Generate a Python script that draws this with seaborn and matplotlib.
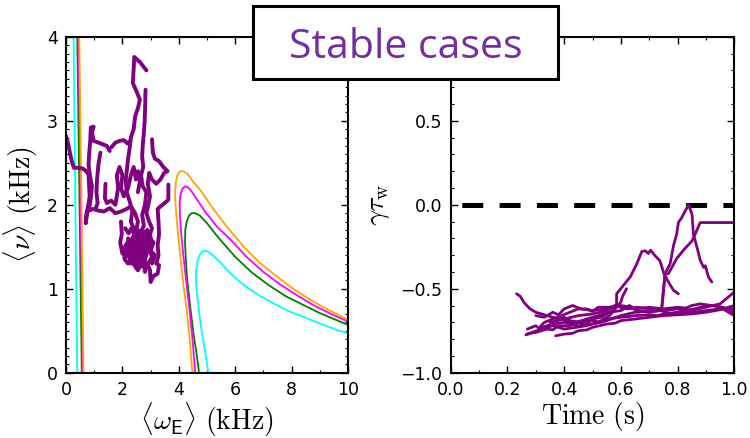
import numpy as np
import pandas as pd
import matplotlib
matplotlib.use("Agg")
import matplotlib.pyplot as plt
import seaborn as sns
from matplotlib.patches import Rectangle
from matplotlib.ticker import MultipleLocator

# ---------------- data: left panel (stability boundaries) ----------------
orange_x = [4.48, 4.40, 4.28, 4.16, 4.07, 3.98, 3.93, 3.88, 3.87, 3.90, 3.96, 4.05, 4.15, 4.30, 4.50, 4.80, 5.20, 5.70, 6.30, 6.90, 7.50, 8.10, 8.70, 9.30, 10.0]
orange_y = [0.00, 0.35, 0.75, 1.05, 1.34, 1.62, 1.82, 2.02, 2.16, 2.28, 2.36, 2.40, 2.40, 2.37, 2.28, 2.16, 1.96, 1.74, 1.50, 1.30, 1.14, 0.99, 0.86, 0.75, 0.63]
magenta_x = [4.58, 4.50, 4.38, 4.26, 4.16, 4.08, 4.04, 4.03, 4.06, 4.13, 4.22, 4.32, 4.45, 4.65, 4.95, 5.35, 5.85, 6.40, 7.00, 7.60, 8.20, 8.80, 9.40, 10.0]
magenta_y = [0.00, 0.35, 0.75, 1.10, 1.40, 1.68, 1.88, 2.02, 2.12, 2.19, 2.22, 2.21, 2.16, 2.06, 1.91, 1.74, 1.58, 1.38, 1.20, 1.05, 0.92, 0.80, 0.70, 0.61]
green_x = [4.72, 4.62, 4.52, 4.40, 4.30, 4.25, 4.22, 4.23, 4.28, 4.36, 4.46, 4.58, 4.75, 5.00, 5.40, 6.00, 6.60, 7.20, 7.80, 8.40, 9.00, 9.50, 10.0]
green_y = [0.00, 0.25, 0.47, 0.80, 1.10, 1.35, 1.55, 1.70, 1.80, 1.87, 1.90, 1.90, 1.87, 1.78, 1.61, 1.38, 1.19, 1.04, 0.91, 0.81, 0.71, 0.64, 0.57]
cyan_x = [5.05, 4.94, 4.82, 4.72, 4.64, 4.61, 4.62, 4.68, 4.77, 4.87, 5.00, 5.20, 5.45, 5.70, 6.00, 6.40, 6.90, 7.50, 8.00, 8.60, 9.20, 9.60, 10.0]
cyan_y = [0.00, 0.24, 0.47, 0.72, 0.95, 1.10, 1.24, 1.35, 1.42, 1.45, 1.45, 1.40, 1.32, 1.23, 1.13, 1.02, 0.91, 0.80, 0.72, 0.64, 0.56, 0.51, 0.47]
# near-vertical low-frequency branches
cyan_l_x, cyan_l_y = [0.27, 0.33, 0.40], [4.0, 2.0, 0.0]
green_l_x, green_l_y = [0.40, 0.48, 0.56], [4.0, 2.0, 0.0]
magenta_l_x, magenta_l_y = [0.45, 0.52, 0.60], [4.0, 2.0, 0.0]
orange_l_x, orange_l_y = [0.47, 0.55, 0.62], [4.0, 2.0, 0.0]

# ---------------- data: left panel (measured trajectories) ----------------
traj_left = {
    "T1": [(2.85, 3.60), (2.62, 3.70), (2.42, 3.76), (2.40, 3.62), (2.37, 3.45), (2.50, 3.35), (2.62, 3.25),
           (2.55, 3.15), (2.45, 3.05), (2.40, 2.90), (2.30, 2.80), (2.26, 2.68), (2.20, 2.55), (2.16, 2.42),
           (2.12, 2.30), (2.15, 2.15), (2.25, 2.05), (2.35, 1.92), (2.30, 1.80), (2.42, 1.70), (2.55, 1.62),
           (2.48, 1.52), (2.60, 1.45), (2.72, 1.50), (2.65, 1.38), (2.80, 1.42)],
    "T2": [(2.82, 3.37), (2.81, 3.20), (2.79, 3.00), (2.76, 2.85), (2.72, 2.70), (2.70, 2.57), (2.74, 2.45),
           (2.66, 2.35), (2.72, 2.22), (2.85, 2.15), (2.80, 2.00), (2.70, 1.88), (2.76, 1.75), (2.62, 1.65),
           (2.70, 1.55), (2.85, 1.60), (2.90, 1.48), (2.75, 1.40), (2.60, 1.35), (2.52, 1.45)],
    "T3": [(0.0, 2.82), (0.08, 2.72), (0.15, 2.60), (0.22, 2.50), (0.28, 2.44), (0.45, 2.44), (0.60, 2.43),
           (0.72, 2.40), (0.80, 2.36), (0.82, 2.22), (0.84, 2.10), (0.78, 1.98), (0.72, 1.88), (0.70, 1.78),
           (0.76, 1.92), (0.95, 1.95), (1.15, 1.93), (1.35, 1.92), (1.55, 1.96), (1.75, 1.90), (1.95, 1.92),
           (2.15, 1.95), (2.30, 1.98), (2.45, 1.90), (2.55, 1.80), (2.48, 1.68), (2.35, 1.60), (2.25, 1.52)],
    "T4": [(1.55, 2.64), (1.45, 2.70), (1.30, 2.72), (1.15, 2.74), (0.98, 2.76), (0.92, 2.86), (0.98, 2.93),
           (0.88, 2.92), (0.86, 2.76), (0.82, 2.60), (0.80, 2.48), (0.85, 2.35), (0.92, 2.22), (0.88, 2.08),
           (0.82, 1.95)],
    "T5": [(1.60, 2.68), (1.75, 2.74), (1.90, 2.76), (2.05, 2.77), (2.18, 2.73), (2.28, 2.76)],
    "T6": [(3.05, 2.78), (3.08, 2.62), (3.15, 2.55), (3.30, 2.52), (3.45, 2.45), (3.60, 2.40), (3.48, 2.38),
           (3.35, 2.30), (3.20, 2.25), (3.05, 2.30), (2.95, 2.38), (2.90, 2.25), (2.98, 2.10), (2.92, 2.00),
           (2.85, 1.90), (2.95, 1.80), (3.05, 1.72), (2.95, 1.62), (3.10, 1.55), (3.00, 1.45), (3.15, 1.40),
           (3.05, 1.30)],
    "T7": [(3.63, 2.24), (3.63, 2.06), (3.50, 2.02), (3.35, 1.98), (3.25, 1.95), (3.28, 1.80), (3.30, 1.65),
           (3.25, 1.52), (3.28, 1.40), (3.20, 1.30), (3.30, 1.28), (3.25, 1.18), (3.10, 1.15), (3.00, 1.08),
           (2.98, 1.22), (2.88, 1.30), (2.80, 1.20), (2.75, 1.35)],
    "T8": [(1.95, 1.80), (1.98, 1.65), (1.92, 1.55), (2.00, 1.42), (2.10, 1.50), (2.15, 1.38), (2.25, 1.45),
           (2.20, 1.60), (2.35, 1.55), (2.40, 1.40), (2.55, 1.30), (2.50, 1.50), (2.65, 1.58), (2.70, 1.42),
           (2.85, 1.50), (2.80, 1.32), (2.60, 1.25), (2.45, 1.35), (2.30, 1.30), (2.25, 1.42), (2.40, 1.58),
           (2.55, 1.70), (2.68, 1.60), (2.80, 1.68), (2.95, 1.55), (2.85, 1.40), (2.70, 1.48), (2.58, 1.40),
           (2.48, 1.55), (2.62, 1.50)],
    "T9": [(1.40, 2.25), (1.38, 2.08), (1.45, 2.02), (1.60, 2.05), (1.75, 2.00), (1.85, 2.20), (1.80, 2.35),
           (1.90, 2.45), (2.00, 2.35), (1.95, 2.20), (2.05, 2.10), (2.20, 2.20), (2.30, 2.35), (2.40, 2.45),
           (2.48, 2.30), (2.55, 2.40), (2.62, 2.28), (2.55, 2.15)],
    "T10": [(1.22, 2.62), (1.15, 2.48), (1.10, 2.30), (1.08, 2.15), (1.12, 2.02), (1.05, 1.95)],
    "T11": [(2.10, 1.72), (2.22, 1.66), (2.32, 1.72), (2.45, 1.62), (2.38, 1.48), (2.52, 1.42), (2.62, 1.55),
            (2.75, 1.62), (2.88, 1.70), (3.00, 1.62), (2.92, 1.50), (3.05, 1.38), (2.92, 1.30), (2.78, 1.25),
            (2.65, 1.32), (2.55, 1.22), (2.42, 1.28), (2.32, 1.38), (2.20, 1.30), (2.08, 1.35), (2.05, 1.48),
            (2.18, 1.55), (2.30, 1.48), (2.45, 1.52), (2.58, 1.62), (2.72, 1.55), (2.82, 1.45), (2.68, 1.38)],
}

# ---------------- data: right panel (growth rate vs time) ----------------
traj_right = {
    "B1": [(0.232, -0.53), (0.245, -0.545), (0.26, -0.585), (0.28, -0.62), (0.30, -0.64), (0.32, -0.65),
           (0.35, -0.665), (0.38, -0.68), (0.40, -0.67), (0.42, -0.69), (0.46, -0.70), (0.50, -0.69),
           (0.53, -0.70), (0.55, -0.68), (0.60, -0.67), (0.63, -0.665), (0.65, -0.66), (0.70, -0.655),
           (0.73, -0.66), (0.75, -0.65), (0.80, -0.64), (0.85, -0.64), (0.88, -0.635), (0.90, -0.63),
           (0.95, -0.62), (1.0, -0.62)],
    "B2": [(0.265, -0.775), (0.28, -0.765), (0.30, -0.76), (0.34, -0.74), (0.36, -0.745), (0.38, -0.72),
           (0.42, -0.72), (0.45, -0.70), (0.48, -0.705), (0.50, -0.68), (0.53, -0.67), (0.55, -0.65),
           (0.57, -0.63), (0.585, -0.60), (0.585, -0.53), (0.609, -0.48), (0.633, -0.43), (0.656, -0.353),
           (0.674, -0.278), (0.686, -0.274), (0.697, -0.29), (0.705, -0.27), (0.721, -0.304), (0.738, -0.334),
           (0.752, -0.41), (0.768, -0.46), (0.786, -0.51), (0.803, -0.53)],
    "B3": [(0.27, -0.74), (0.30, -0.72), (0.31, -0.735), (0.33, -0.70), (0.36, -0.68), (0.39, -0.66),
           (0.42, -0.64), (0.45, -0.62), (0.48, -0.62), (0.50, -0.635), (0.52, -0.61), (0.56, -0.61),
           (0.60, -0.60), (0.64, -0.61), (0.66, -0.64), (0.70, -0.63), (0.744, -0.62), (0.756, -0.41),
           (0.774, -0.35), (0.786, -0.24), (0.797, -0.175), (0.803, -0.105), (0.815, -0.076), (0.827, -0.037),
           (0.839, 0.0), (0.851, -0.057), (0.856, -0.175), (0.868, -0.25), (0.880, -0.33), (0.892, -0.373),
           (0.898, -0.363), (0.909, -0.43), (0.921, -0.46)],
    "B4": [(0.37, -0.78), (0.40, -0.77), (0.43, -0.765), (0.45, -0.75), (0.48, -0.745), (0.50, -0.73),
           (0.55, -0.71), (0.58, -0.705), (0.60, -0.69), (0.65, -0.68), (0.70, -0.67), (0.75, -0.66),
           (0.80, -0.655), (0.85, -0.65), (0.90, -0.64), (0.95, -0.625), (1.0, -0.60)],
    "B5": [(0.30, -0.66), (0.33, -0.67), (0.36, -0.64), (0.38, -0.655), (0.40, -0.62), (0.43, -0.60),
           (0.46, -0.62), (0.50, -0.63), (0.55, -0.62), (0.58, -0.60), (0.60, -0.61), (0.65, -0.62),
           (0.70, -0.61), (0.75, -0.62), (0.80, -0.61), (0.83, -0.615), (0.85, -0.60), (0.88, -0.59),
           (0.92, -0.60), (0.96, -0.61), (1.0, -0.64)],
    "B6": [(0.32, -0.73), (0.36, -0.71), (0.40, -0.70), (0.45, -0.72), (0.50, -0.71), (0.55, -0.69),
           (0.60, -0.66), (0.65, -0.64), (0.70, -0.63), (0.75, -0.63), (0.80, -0.62), (0.85, -0.63),
           (0.90, -0.61), (0.95, -0.59), (1.0, -0.52)],
    "B7": [(0.35, -0.70), (0.40, -0.68), (0.45, -0.66), (0.50, -0.65), (0.55, -0.63), (0.58, -0.60),
           (0.62, -0.62), (0.66, -0.61), (0.70, -0.62), (0.744, -0.62), (0.756, -0.41), (0.768, -0.41),
           (0.797, -0.32), (0.821, -0.27), (0.851, -0.215), (0.862, -0.175), (0.88, -0.106), (1.0, -0.106)],
    "B8": [(0.27, -0.77), (0.32, -0.74), (0.36, -0.72), (0.40, -0.74), (0.44, -0.73), (0.48, -0.72),
           (0.52, -0.70), (0.56, -0.66), (0.58, -0.62), (0.60, -0.58), (0.605, -0.55), (0.62, -0.50)],
    "B9": [(0.40, -0.69), (0.44, -0.70), (0.48, -0.68), (0.52, -0.66), (0.56, -0.64), (0.60, -0.63),
           (0.63, -0.60), (0.66, -0.63), (0.70, -0.64), (0.74, -0.63), (0.78, -0.65), (0.82, -0.63),
           (0.86, -0.62), (0.90, -0.60), (0.93, -0.60), (0.96, -0.62), (1.0, -0.66)],
}
stability_threshold = 0.0

title_text = "Stable cases"

# ---------------- build tables ----------------
curves = [
    ("cyan", "cyan_r", cyan_x, cyan_y), ("cyan", "cyan_l", cyan_l_x, cyan_l_y),
    ("green", "green_r", green_x, green_y), ("green", "green_l", green_l_x, green_l_y),
    ("magenta", "magenta_r", magenta_x, magenta_y), ("magenta", "magenta_l", magenta_l_x, magenta_l_y),
    ("orange", "orange_r", orange_x, orange_y), ("orange", "orange_l", orange_l_x, orange_l_y),
]
rows = []
for col, seg, xs, ys in curves:
    for i, (x, y) in enumerate(zip(xs, ys)):
        rows.append({"colour": col, "seg": seg, "i": i, "x": x, "y": y})
df_curves = pd.DataFrame(rows)

rows = []
for name, pts in traj_left.items():
    for i, (x, y) in enumerate(pts):
        rows.append({"traj": name, "i": i, "x": x, "y": y})
df_left = pd.DataFrame(rows)

rows = []
for name, pts in traj_right.items():
    for i, (x, y) in enumerate(pts):
        rows.append({"traj": name, "i": i, "t": x, "g": y})
df_right = pd.DataFrame(rows)

# ---------------- style ----------------
sns.set_style("ticks", {"axes.edgecolor": "black", "xtick.color": "black", "ytick.color": "black",
                        "text.color": "black", "axes.labelcolor": "black"})
plt.rcParams["font.family"] = ["DejaVu Sans"]
plt.rcParams["mathtext.fontset"] = "cm"
plt.rcParams["axes.linewidth"] = 1.5

fig = plt.figure(figsize=(7.5, 4.38), dpi=100)
ax1 = fig.add_axes([0.088, 0.149, 0.376, 0.767])
ax2 = fig.add_axes([0.601, 0.149, 0.378, 0.767])

purple = "#800080"
pal = {"cyan": "#00FFFF", "green": "#008000", "magenta": "#FF00FF", "orange": "#FFA500"}

sns.lineplot(data=df_curves, x="x", y="y", hue="colour", units="seg", estimator=None, sort=False,
             palette=pal, hue_order=["cyan", "green", "magenta", "orange"], linewidth=1.3,
             legend=False, ax=ax1)
sns.lineplot(data=df_left, x="x", y="y", units="traj", estimator=None, sort=False,
             color=purple, linewidth=2.8, legend=False, ax=ax1)

ax2.axhline(stability_threshold, color="black", linewidth=3.6,
            linestyle=(5.3, (4.2, 3.26)), zorder=1)
sns.lineplot(data=df_right, x="t", y="g", units="traj", estimator=None, sort=False,
             color=purple, linewidth=2.0, legend=False, ax=ax2)

ax1.set_xlim(0, 10)
ax1.set_ylim(0, 4)
ax1.xaxis.set_major_locator(MultipleLocator(2))
ax1.xaxis.set_minor_locator(MultipleLocator(1))
ax1.yaxis.set_major_locator(MultipleLocator(1))
ax1.yaxis.set_minor_locator(MultipleLocator(0.1))

ax2.set_xlim(0, 1)
ax2.set_ylim(-1, 1)
ax2.xaxis.set_major_locator(MultipleLocator(0.2))
ax2.xaxis.set_minor_locator(MultipleLocator(0.1))
ax2.yaxis.set_major_locator(MultipleLocator(0.5))
ax2.yaxis.set_minor_locator(MultipleLocator(0.1))

for ax in (ax1, ax2):
    ax.tick_params(which="both", direction="in", top=True, right=True, color="black")
    ax.tick_params(which="major", length=5, width=1.0, labelsize=12.5, pad=6)
    ax.tick_params(which="minor", length=2.5, width=0.8)
    for s in ax.spines.values():
        s.set_linewidth(1.5)
        s.set_color("black")

ax1.set_xlabel(r"$\langle \omega_{\mathsf{E}} \rangle\ (\mathrm{kHz})$", fontsize=20, labelpad=1)
ax1.set_ylabel(r"$\langle \nu \rangle\ (\mathrm{kHz})$", fontsize=20, labelpad=5)
ax2.set_xlabel(r"$\mathrm{Time\ (s)}$", fontsize=20, labelpad=1)
ax2.set_ylabel(r"$\gamma\tau_{\mathrm{w}}$", fontsize=20, labelpad=6)

# title box
box = Rectangle((253 / 750, 1 - 79 / 438), (558 - 253) / 750, (79 - 6) / 438,
                transform=fig.transFigure, facecolor="white", edgecolor="black",
                linewidth=2.2, zorder=10)
fig.add_artist(box)
fig.text(405.5 / 750, 1 - 57.5 / 438, title_text, transform=fig.transFigure, ha="center",
         va="baseline", fontsize=29.5, color="#7030A0", family=["Open Sans", "DejaVu Sans"], zorder=11)

fig.savefig("out.png", dpi=100)
